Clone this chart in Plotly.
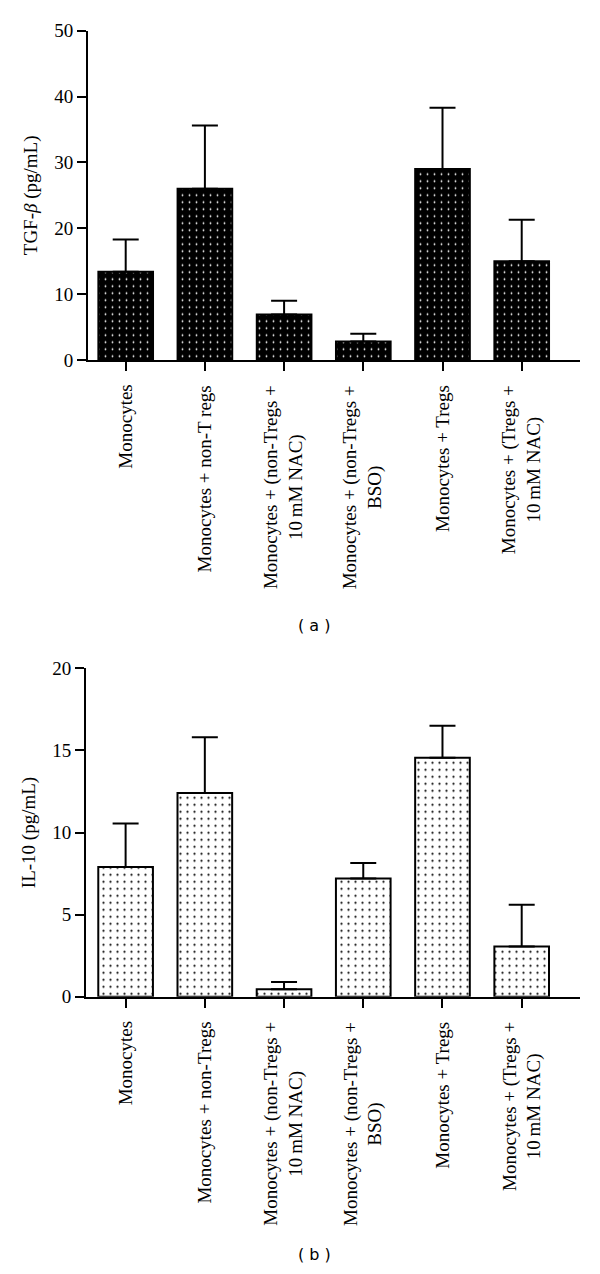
import plotly.graph_objects as go

# ---- data ----
categories_a = [
    "Monocytes",
    "Monocytes + non-T regs",
    "Monocytes + (non-Tregs +<br>10\u2009mM NAC)",
    "Monocytes + (non-Tregs +<br>BSO)",
    "Monocytes + Tregs",
    "Monocytes + (Tregs +<br>10\u2009mM NAC)",
]
tgf_values = [13.4, 26.0, 6.9, 2.8, 29.0, 15.0]
tgf_err = [4.9, 9.6, 2.1, 1.2, 9.3, 6.3]

categories_b = [
    "Monocytes",
    "Monocytes + non-Tregs",
    "Monocytes + (non-Tregs +<br>10\u2009mM NAC)",
    "Monocytes + (non-Tregs +<br>BSO)",
    "Monocytes + Tregs",
    "Monocytes + (Tregs +<br>10\u2009mM NAC)",
]
il10_values = [7.9, 12.4, 0.45, 7.2, 14.55, 3.05]
il10_err = [2.65, 3.4, 0.45, 0.95, 1.95, 2.55]

tgf_ticks = [0, 10, 20, 30, 40, 50]
il10_ticks = [0, 5, 10, 15, 20]

SERIF = "Liberation Serif, Times New Roman, serif"
# page body has an 8px margin; figure is sized so that it fills the 600x1274 window
OFF = 8
W, H = 600 - 2 * OFF, 1274 - 2 * OFF


def px(x):
    return (x - OFF) / W


def py(y):
    return 1 - (y - OFF) / H


fig = go.Figure()

fig.add_trace(go.Bar(
    x=categories_a, y=tgf_values, width=0.69,
    marker=dict(color="black", line=dict(color="black", width=2),
                pattern=dict(shape=".", fillmode="replace", bgcolor="black",
                             fgcolor="white", fgopacity=1, size=7, solidity=0.05)),
    error_y=dict(type="data", symmetric=False, array=tgf_err,
                 arrayminus=[0] * len(tgf_err), color="black", thickness=2, width=13),
    xaxis="x", yaxis="y", showlegend=False,
))

fig.add_trace(go.Bar(
    x=categories_b, y=il10_values, width=0.69,
    marker=dict(color="white", line=dict(color="black", width=2),
                pattern=dict(shape=".", fillmode="replace", bgcolor="white",
                             fgcolor="black", fgopacity=1, size=7, solidity=0.08)),
    error_y=dict(type="data", symmetric=False, array=il10_err,
                 arrayminus=[0] * len(il10_err), color="black", thickness=2, width=13),
    xaxis="x2", yaxis="y2", showlegend=False,
))

line_common = dict(showline=True, linecolor="black", linewidth=2, ticks="outside",
                   tickcolor="black", tickwidth=2, ticklen=9, showgrid=False,
                   zeroline=False, automargin=False)
tickfont = dict(family=SERIF, size=19, color="black")

fig.update_layout(
    template="none",
    width=W, height=H,
    margin=dict(l=0, r=0, t=0, b=0),
    paper_bgcolor="white", plot_bgcolor="white",
    xaxis=dict(domain=[px(88), px(580)], range=[-0.476, 5.736], anchor="y",
               showticklabels=False, type="category", **line_common),
    yaxis=dict(domain=[py(360), py(30.7)], range=[0, 50], anchor="x",
               tickvals=tgf_ticks, tickfont=tickfont,
               title=dict(text="TGF-<i>β</i> (pg/mL)", font=dict(family=SERIF, size=19, color="black"),
                          standoff=12),
               **line_common),
    xaxis2=dict(domain=[px(86), px(580)], range=[-0.50, 5.736], anchor="y2",
                showticklabels=False, type="category", **line_common),
    yaxis2=dict(domain=[py(996.7), py(668.3)], range=[0, 20], anchor="x2",
                tickvals=il10_ticks, tickfont=tickfont,
                title=dict(text="IL-10 (pg/mL)", font=dict(family=SERIF, size=19, color="black"),
                           standoff=12),
                **line_common),
)

annotations = []
for cat in categories_a:
    annotations.append(dict(x=cat, y=0, xref="x", yref="y", text=cat, showarrow=False,
                            textangle=-90, xanchor="center", yanchor="top", align="center",
                            yshift=-23, font=dict(family=SERIF, size=19, color="black")))
for cat in categories_b:
    annotations.append(dict(x=cat, y=0, xref="x2", yref="y2", text=cat, showarrow=False,
                            textangle=-90, xanchor="center", yanchor="top", align="center",
                            yshift=-23, font=dict(family=SERIF, size=19, color="black")))
annotations.append(dict(x=px(314), y=py(625), xref="paper", yref="paper", text="( a )",
                        showarrow=False, xanchor="center", yanchor="middle",
                        font=dict(family="DejaVu Sans", size=16, color="black")))
annotations.append(dict(x=px(314), y=py(1254), xref="paper", yref="paper", text="( b )",
                        showarrow=False, xanchor="center", yanchor="middle",
                        font=dict(family="DejaVu Sans", size=16, color="black")))
fig.update_layout(annotations=annotations)

fig.write_html("out.html")
